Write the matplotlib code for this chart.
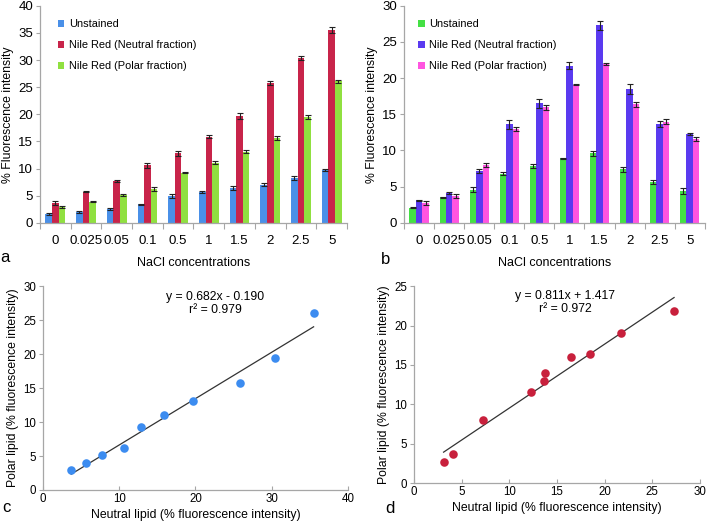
import numpy as np
import matplotlib.pyplot as plt

plt.rcParams['font.family'] = ['Liberation Sans', 'DejaVu Sans']
plt.rcParams['font.size'] = 8.3

# ---------------- data ----------------
nacl = ['0', '0.025', '0.05', '0.1', '0.5', '1', '1.5', '2', '2.5', '5']

# panel a
a_unstained = [1.6, 2.0, 2.5, 3.4, 4.9, 5.7, 6.4, 7.0, 8.3, 9.7]
a_unstained_err = [0.15, 0.15, 0.15, 0.1, 0.4, 0.25, 0.4, 0.3, 0.35, 0.15]
a_neutral = [3.7, 5.7, 7.7, 10.6, 12.8, 15.9, 19.7, 25.8, 30.4, 35.5]
a_neutral_err = [0.35, 0.1, 0.2, 0.5, 0.45, 0.25, 0.5, 0.35, 0.4, 0.6]
a_polar = [2.9, 3.9, 5.1, 6.2, 9.2, 11.1, 13.1, 15.7, 19.5, 26.1]
a_polar_err = [0.15, 0.15, 0.15, 0.35, 0.1, 0.35, 0.3, 0.35, 0.45, 0.3]

# panel b
b_unstained = [2.1, 3.5, 4.6, 6.8, 7.9, 8.9, 9.6, 7.4, 5.6, 4.4]
b_unstained_err = [0.1, 0.1, 0.3, 0.2, 0.3, 0.1, 0.35, 0.35, 0.25, 0.4]
b_neutral = [3.1, 4.1, 7.2, 13.6, 16.5, 21.7, 27.3, 18.5, 13.7, 12.3]
b_neutral_err = [0.1, 0.1, 0.3, 0.6, 0.6, 0.5, 0.6, 0.75, 0.4, 0.15]
b_polar = [2.7, 3.7, 8.0, 13.0, 16.0, 19.1, 21.9, 16.4, 14.0, 11.6]
b_polar_err = [0.25, 0.3, 0.3, 0.3, 0.35, 0.1, 0.15, 0.35, 0.35, 0.25]

labels = ['Unstained', 'Nile Red (Neutral fraction)', 'Nile Red (Polar fraction)']

# regressions
c_slope, c_icpt, c_r2 = 0.682, -0.190, 0.979
d_slope, d_icpt, d_r2 = 0.811, 1.417, 0.972

AXC = '#a6a6a6'


def style_axes(ax):
    for s in ['top', 'right']:
        ax.spines[s].set_visible(False)
    for s in ['left', 'bottom']:
        ax.spines[s].set_color(AXC)
        ax.spines[s].set_linewidth(0.9)
    ax.tick_params(color=AXC, length=3, width=0.8, labelsize=8.3, pad=2)


def bar_panel(ax, series, errs, colors, ymax, leg_x):
    x = np.arange(len(nacl))
    w = 0.215
    for i, (vals, e, c, lab) in enumerate(zip(series, errs, colors, labels)):
        ax.bar(x + (i - 1) * w, vals, w, color=c, label=lab,
               yerr=e, error_kw=dict(ecolor='#222222', elinewidth=0.8, capsize=1.9, capthick=0.8))
    style_axes(ax)
    ax.set_xlim(-0.5, len(nacl) - 0.5)
    ax.set_ylim(0, ymax)
    ax.set_xticks(x)
    ax.set_xticklabels(nacl, fontsize=9.5)
    ax.tick_params(axis='x', length=0, pad=9)
    ax.set_xticks(np.arange(-0.5, len(nacl)), minor=True)
    ax.tick_params(axis='x', which='minor', length=4, color=AXC, width=0.8)
    ax.tick_params(axis='y', labelsize=9.5)
    ax.set_ylabel('% Fluorescence intensity', fontsize=8.8, labelpad=3)
    ax.set_xlabel('NaCl concentrations', fontsize=9, labelpad=7)
    ax.legend(loc='upper left', bbox_to_anchor=(leg_x, 0.937), frameon=False,
              borderpad=0, borderaxespad=0,
              handlelength=0.6, handleheight=0.6, handletextpad=0.4,
              labelspacing=1.0, fontsize=7.9)


def scatter_panel(ax, xs, ys, slope, icpt, r2, color, xmax, ymax, xstep, ystep, sign, eq_x):
    ax.scatter(xs, ys, s=38, color=color, zorder=3, linewidths=0)
    xl = np.array([min(xs), max(xs)])
    ax.plot(xl, slope * xl + icpt, color='#333333', lw=0.9, zorder=2)
    style_axes(ax)
    ax.set_xlim(0, xmax)
    ax.set_ylim(0, ymax)
    ax.set_xticks(np.arange(0, xmax + 0.1, xstep))
    ax.set_yticks(np.arange(0, ymax + 0.1, ystep))
    ax.tick_params(axis='x', direction='in', length=3)
    ax.tick_params(axis='y', direction='out', length=3)
    ax.set_xlabel('Neutral lipid (% fluorescence intensity)', fontsize=8.8, labelpad=3)
    ax.set_ylabel('Polar lipid (% fluorescence intensity)', fontsize=8.8, labelpad=3)
    eq = 'y = %.3fx %s %.3f' % (slope, sign, abs(icpt))
    ax.text(eq_x, 0.915, eq + '\nr\u00b2 = %.3f' % r2, transform=ax.transAxes,
            ha='center', va='center', fontsize=8.8, linespacing=1.1)


fig = plt.figure(figsize=(7.09, 5.28), dpi=100)

ax_a = fig.add_axes([0.0564, 0.578, 0.433, 0.411])
bar_panel(ax_a, [a_unstained, a_neutral, a_polar],
          [a_unstained_err, a_neutral_err, a_polar_err],
          ['#4a90e8', '#c8244a', '#90e040'], 40, 0.058)
ax_a.set_yticks(np.arange(0, 41, 5))
ax_a.text(-0.114, -0.161, 'a', transform=ax_a.transAxes, fontsize=12, ha='center', va='center')

ax_b = fig.add_axes([0.570, 0.578, 0.424, 0.411])
bar_panel(ax_b, [b_unstained, b_neutral, b_polar],
          [b_unstained_err, b_neutral_err, b_polar_err],
          ['#44e044', '#5a3af0', '#ff55e0'], 30, 0.047)
ax_b.set_yticks(np.arange(0, 31, 5))
ax_b.text(-0.063, -0.17, 'b', transform=ax_b.transAxes, fontsize=12, ha='center', va='center')

ax_c = fig.add_axes([0.0607, 0.072, 0.430, 0.386])
scatter_panel(ax_c, a_neutral, a_polar, c_slope, c_icpt, c_r2, '#3c8cf0', 40, 30, 10, 5, '-', 0.564)
ax_c.text(-0.12, -0.088, 'c', transform=ax_c.transAxes, fontsize=12, ha='center', va='center')

ax_d = fig.add_axes([0.584, 0.085, 0.403, 0.373])
scatter_panel(ax_d, b_neutral, b_polar, d_slope, d_icpt, d_r2, '#c8203c', 30, 25, 5, 5, '+', 0.528)
ax_d.text(-0.084, -0.127, 'd', transform=ax_d.transAxes, fontsize=12, ha='center', va='center')

plt.savefig('out.png', dpi=100)
